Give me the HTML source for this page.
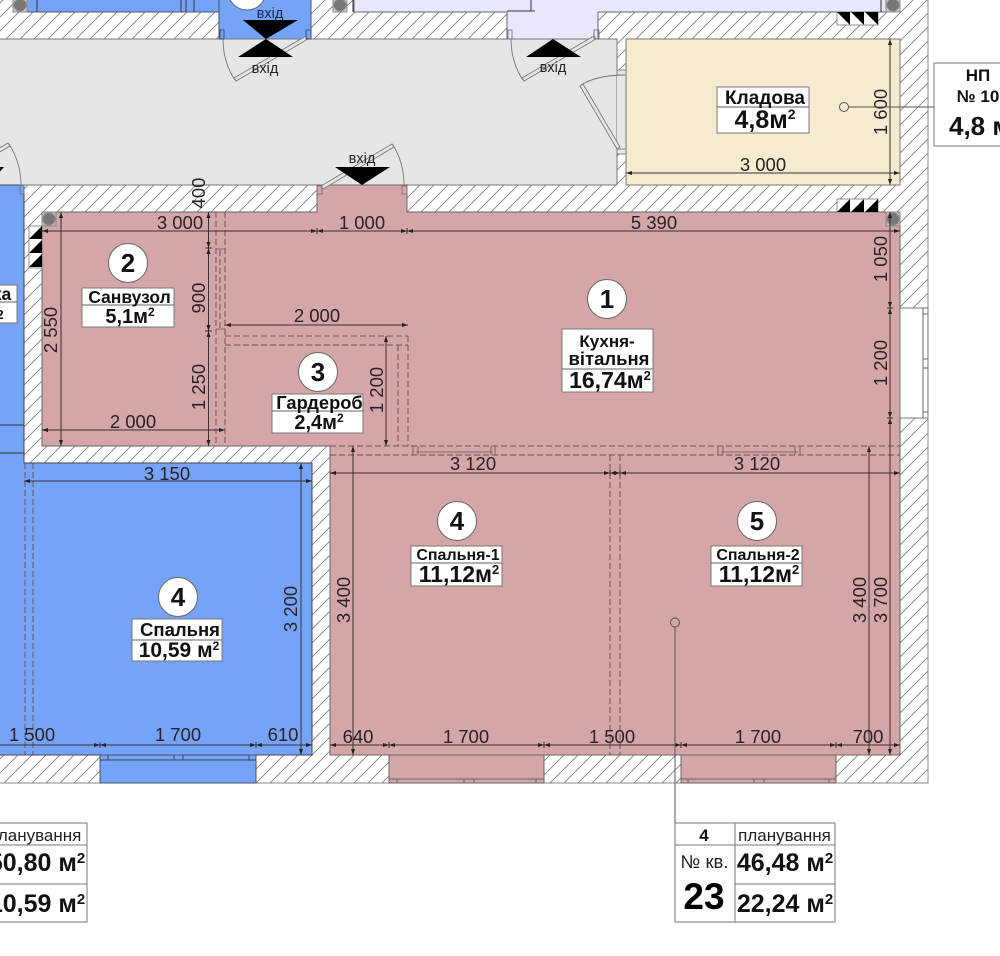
<!DOCTYPE html>
<html><head><meta charset="utf-8"><style>
html,body{margin:0;padding:0;background:#fff;width:1000px;height:956px;overflow:hidden}
svg{display:block;filter:blur(.35px)}
text{font-family:"Liberation Sans",sans-serif;fill:#2a2226;text-anchor:middle}
.d{font-size:18.5px}
.l{font-weight:bold;font-size:17.5px;fill:#111}
.a{font-weight:bold;font-size:20px;fill:#111}
.n{font-weight:bold;font-size:26px;fill:#111}
.v{font-size:14.5px}
.t{font-weight:bold;font-size:25px;fill:#111}
.dim{stroke:#3a3032;stroke-width:1;fill:none}
.dash{stroke:#6b5356;stroke-width:1;stroke-dasharray:6 3;fill:none}
.box{fill:#fff;stroke:#777;stroke-width:1}
.c{fill:#fff;stroke:#666;stroke-width:1}
.w{stroke:#666;stroke-width:1;fill:none}
</style></head><body>
<svg width="1000" height="956" viewBox="0 0 1000 956" xmlns="http://www.w3.org/2000/svg">
<defs>
<pattern id="h" patternUnits="userSpaceOnUse" width="14" height="14"><path d="M-1 4L4 -1M2 15L15 2" stroke="#808080" stroke-width=".9"/></pattern>
<marker id="e" markerUnits="userSpaceOnUse" markerWidth="7" markerHeight="5" refX="6" refY="2.500" orient="auto-start-reverse"><path d="M0 .5L6 2.500L0 4.500z" fill="#222"/></marker>
</defs>
<rect width="1000" height="956" fill="#fff"/>
<rect x="-2" y="-2" width="930" height="785" fill="url(#h)" stroke="#888"/>

<!-- rooms -->
<rect x="27" y="-2" width="192" height="14" fill="#75a3f8" stroke="#557"/>
<rect x="219" y="-2" width="92" height="41" fill="#75a3f8" stroke="#456"/>
<rect x="354" y="-2" width="533" height="14" fill="#e7e7fd" stroke="#667"/>
<rect x="507" y="11" width="91" height="28" fill="#e7e7fd"/>
<path d="M507 12V39M598 12V39" class="w"/>
<rect x="-2" y="39" width="619" height="146" fill="#e6e6e6" stroke="#777"/>
<rect x="617" y="72" width="9" height="78" fill="#e6e6e6"/>
<rect x="626" y="39" width="274" height="146" fill="#f7ebcf" stroke="#777"/>
<path d="M-2 185H24V463H312V755H-2z" fill="#75a3f8" stroke="#445"/>
<path d="M42 212H317V185H407V212H900V755H330V446H42z" fill="#d4a6a7" stroke="#666"/>
<rect x="100" y="755" width="156" height="28" fill="#75a3f8" stroke="#456"/>
<rect x="389" y="755" width="155" height="28" fill="#d4a6a7" stroke="#666"/>
<rect x="681" y="755" width="155" height="28" fill="#d4a6a7" stroke="#666"/>
<rect x="900" y="308" width="28" height="110" fill="#fff" stroke="#777"/>
<path d="M923 308V418M923 314H928M923 359H928M923 368H928M923 412H928" class="w"/>
<path d="M100 760H256M108 755V760M174 755V760M183 755V760M249 755V760" stroke="#345" fill="none"/>
<path d="M389 779H544M397 779V783M464 779V783M474 779V783M536 779V783M681 779H836M688 779V783M754 779V783M764 779V783M829 779V783" class="w"/>

<!-- columns -->
<g fill="#777" stroke="#888">
<rect x="13" y="-2" width="14" height="14" fill="#ccc"/><circle cx="20" cy="5" r="6"/>
<rect x="333" y="-2" width="14" height="14" fill="#ccc"/><circle cx="340" cy="5" r="6"/>
<rect x="886" y="-2" width="14" height="14" fill="#ccc"/><circle cx="893" cy="5" r="6"/>
<rect x="42" y="212" width="14" height="14" fill="#bba"/><circle cx="49" cy="219" r="6"/>
<rect x="886" y="212" width="14" height="14" fill="#bba"/><circle cx="893" cy="219" r="6"/>
</g>

<!-- vents -->
<g stroke="#777" stroke-width=".8">
<rect x="837" y="12" width="41" height="13" fill="#fff"/>
<rect x="837" y="199" width="41" height="13" fill="#fff"/>
<rect x="29" y="226" width="13" height="42" fill="#fff"/>
</g>
<path d="M837 12H850V25zM851 12H864V25zM865 12H878V25z" fill="#000"/>
<path d="M837 212L850 199V212zM851 212L864 199V212zM865 212L878 199V212z" fill="#000"/>
<path d="M42 226V239H29zM42 240V253H29zM42 254V267H29z" fill="#000"/>

<!-- doors -->
<g stroke="#777" fill="none" stroke-width=".9">
<path d="M306 36L234 78L236 81L308 39z" fill="#e6e6e6"/>
<path d="M235 80Q223 62 223 39"/>
<rect x="220" y="30" width="4" height="9" stroke="#446"/><rect x="306" y="30" width="5" height="9" stroke="#446"/>
<path d="M392 144L321 186L323 189L394 147z" fill="#e6e6e6"/>
<path d="M393 145Q404 163 404 185"/>
<rect x="317" y="186" width="5" height="8"/><rect x="402" y="186" width="5" height="8"/>
<path d="M-4 150L8 143L10 146L-2 153z" fill="#e6e6e6"/>
<path d="M9 144Q21 163 21 185"/><rect x="20" y="185" width="4" height="9"/>
<path d="M594 36L522 78L524 81L596 39z" fill="#e6e6e6"/>
<path d="M523 80Q511 62 511 39"/>
<rect x="508" y="30" width="4" height="9"/><rect x="594" y="30" width="5" height="9"/>
<path d="M620 147L583 84L580 86L617 149z" fill="#e6e6e6"/>
<path d="M581 85Q597 75 626 75"/>
<rect x="617" y="70" width="9" height="5" fill="#e6e6e6"/><rect x="617" y="149" width="9" height="5" fill="#e6e6e6"/>
</g>

<!-- entry triangles -->
<path d="M243 20H298L266 39zM238 57H293L266 39zM335 167H390L362 185zM526 57H581L553 39zM-10 167H4L-3 175z" fill="#000"/>
<text x="270" y="18" class="v" style="fill:#14264d">вхід</text>
<text x="265" y="73" class="v">вхід</text>
<text x="362" y="163" class="v">вхід</text>
<text x="553" y="72" class="v">вхід</text>

<!-- dashed partitions -->
<path class="dash" d="M216 212V446M225 212V446M225 336H408M225 345H408M398 345V446M408 336V446M330 446H900M330 455H900M610 455V755M620 455V755M25 463V755M33 463V755M220 250V328"/>
<path d="M216 249H225M216 329H225M413 446V455M418 446V455M491 446V455M495 446V455M718 446V455M723 446V455M795 446V455M800 446V455M416 452H493M721 452H798" stroke="#6b5356" fill="none" stroke-width=".8"/>

<!-- dimension lines -->
<g class="dim">
<path d="M42 231H317" marker-start="url(#e)" marker-end="url(#e)"/><path d="M317 231H407" marker-start="url(#e)" marker-end="url(#e)"/><path d="M407 231H900" marker-start="url(#e)" marker-end="url(#e)"/>
<path d="M208.500 212V248" marker-start="url(#e)" marker-end="url(#e)"/><path d="M208.500 248V331" marker-start="url(#e)" marker-end="url(#e)"/><path d="M208.500 331V446" marker-start="url(#e)" marker-end="url(#e)"/>
<path d="M61 212V446" marker-start="url(#e)" marker-end="url(#e)"/>
<path d="M42 430H225" marker-start="url(#e)" marker-end="url(#e)"/>
<path d="M225 325H408" marker-start="url(#e)" marker-end="url(#e)"/>
<path d="M386 336V446" marker-start="url(#e)" marker-end="url(#e)"/>
<path d="M330 473H610" marker-start="url(#e)" marker-end="url(#e)"/><path d="M610 473H620" marker-start="url(#e)" marker-end="url(#e)"/><path d="M620 473H900" marker-start="url(#e)" marker-end="url(#e)"/>
<path d="M353 446V755" marker-start="url(#e)" marker-end="url(#e)"/>
<path d="M869 446V755" marker-start="url(#e)" marker-end="url(#e)"/>
<path d="M890 212V308" marker-start="url(#e)" marker-end="url(#e)"/><path d="M890 308V418" marker-start="url(#e)" marker-end="url(#e)"/><path d="M890 418V755" marker-start="url(#e)" marker-end="url(#e)"/>
<path d="M-2 745H100" marker-end="url(#e)"/><path d="M100 745H256" marker-start="url(#e)" marker-end="url(#e)"/><path d="M256 745H312" marker-start="url(#e)" marker-end="url(#e)"/>
<path d="M330 745H389" marker-start="url(#e)" marker-end="url(#e)"/><path d="M389 745H544" marker-start="url(#e)" marker-end="url(#e)"/><path d="M544 745H681" marker-start="url(#e)" marker-end="url(#e)"/><path d="M681 745H836" marker-start="url(#e)" marker-end="url(#e)"/><path d="M836 745H900" marker-start="url(#e)" marker-end="url(#e)"/>
<path d="M24 481H312" marker-start="url(#e)" marker-end="url(#e)"/>
<path d="M301 463V755" marker-start="url(#e)" marker-end="url(#e)"/>
<path d="M626 173H900" marker-start="url(#e)" marker-end="url(#e)"/>
<path d="M890 39V185" marker-start="url(#e)" marker-end="url(#e)"/>
<path d="M0 425H24M0 453H24"/>
<path d="M37 0V12M181 0V12M186 0V12M194 0V12M353 0V12M507 11H535M531 0V11M881 0V12"/>
<path d="M317 228V234M407 228V234M610 470V476M620 470V476M100 742V748M256 742V748M389 742V748M544 742V748M681 742V748M836 742V748M205 248H212M205 331H212M887 308H893M887 418H893"/>
</g>

<!-- dimension text -->
<g class="d">
<text x="180" y="229">3 000</text><text x="362" y="229">1 000</text><text x="654" y="229">5 390</text>
<text x="133" y="428">2 000</text><text x="317" y="322">2 000</text>
<text x="473" y="470">3 120</text><text x="757" y="470">3 120</text><text x="167" y="480">3 150</text>
<text x="763" y="171">3 000</text>
<text x="32" y="741">1 500</text><text x="178" y="741">1 700</text><text x="283" y="741">610</text>
<text x="358" y="743">640</text><text x="466" y="743">1 700</text><text x="612" y="743">1 500</text><text x="758" y="743">1 700</text><text x="868" y="743">700</text>
<text transform="translate(205 193) rotate(-90)">400</text>
<text transform="translate(205 298) rotate(-90)">900</text>
<text transform="translate(205 387) rotate(-90)">1 250</text>
<text transform="translate(57 330) rotate(-90)">2 550</text>
<text transform="translate(383 390) rotate(-90)">1 200</text>
<text transform="translate(350 600) rotate(-90)">3 400</text>
<text transform="translate(866 600) rotate(-90)">3 400</text>
<text transform="translate(887 600) rotate(-90)">3 700</text>
<text transform="translate(887 259) rotate(-90)">1 050</text>
<text transform="translate(887 363) rotate(-90)">1 200</text>
<text transform="translate(887 112) rotate(-90)">1 600</text>
<text transform="translate(297 609) rotate(-90)">3 200</text>
</g>

<!-- number circles -->
<circle class="c" cx="247" cy="-9" r="19"/>
<circle class="c" cx="128" cy="263" r="19.500"/><text class="n" x="128" y="272">2</text>
<circle class="c" cx="318" cy="372" r="19.500"/><text class="n" x="318" y="381">3</text>
<circle class="c" cx="607" cy="299" r="19.500"/><text class="n" x="607" y="308">1</text>
<circle class="c" cx="457" cy="521" r="19.500"/><text class="n" x="457" y="530">4</text>
<circle class="c" cx="757" cy="521" r="19.500"/><text class="n" x="757" y="530">5</text>
<circle class="c" cx="178" cy="597" r="19.500"/><text class="n" x="178" y="606">4</text>

<!-- leaders -->
<path d="M848 107H1000M675 627V823" stroke="#555" stroke-width="1" fill="none"/>
<circle cx="844" cy="107" r="4.500" fill="none" stroke="#555"/>
<circle cx="675" cy="622.500" r="4.500" fill="none" stroke="#555"/>

<!-- labels -->
<rect class="box" x="717" y="87" width="92" height="46"/><path d="M717 107H809" class="w"/>
<text class="l" x="765" y="104" style="font-size:19px">Кладова</text>
<text class="a" x="765" y="128" style="font-size:25px">4,8м<tspan dy="-9" font-size="14">2</tspan></text>

<rect class="box" x="82" y="288" width="92" height="39"/><path d="M82 305H174" class="w"/>
<text class="l" x="129.500" y="303">Санвузол</text>
<text class="a" x="130" y="323" style="font-size:20px">5,1м<tspan dy="-7" font-size="12">2</tspan></text>

<rect class="box" x="562" y="329" width="91" height="63"/><path d="M562 369H653" class="w"/>
<text class="l" x="607" y="347" style="font-size:17px">Кухня-</text><text class="l" x="609" y="365" style="font-size:18.500px">вітальня</text>
<text class="a" x="610" y="388" style="font-size:23px">16,74м<tspan dy="-8" font-size="13">2</tspan></text>

<rect class="box" x="272" y="394" width="91" height="39"/><path d="M272 411H363" class="w"/>
<text class="l" x="319.500" y="409" style="font-size:18.300px">Гардероб</text>
<text class="a" x="319" y="429">2,4м<tspan dy="-7" font-size="12">2</tspan></text>

<rect class="box" x="411" y="546" width="91" height="40"/><path d="M411 563H502" class="w"/>
<text class="l" x="458" y="560" style="font-size:16px">Спальня-1</text>
<text class="a" x="459" y="582" style="font-size:23px">11,12м<tspan dy="-8" font-size="13">2</tspan></text>

<rect class="box" x="711" y="546" width="91" height="40"/><path d="M711 563H802" class="w"/>
<text class="l" x="758" y="560" style="font-size:16px">Спальня-2</text>
<text class="a" x="759" y="582" style="font-size:23px">11,12м<tspan dy="-8" font-size="13">2</tspan></text>

<rect class="box" x="132" y="619" width="90" height="42"/><path d="M132 640H222" class="w"/>
<text class="l" x="180" y="636" style="font-size:18.500px">Спальня</text>
<text class="a" x="179" y="657" style="font-size:21px">10,59 м<tspan dy="-7" font-size="12">2</tspan></text>

<rect class="box" x="-5" y="285" width="22" height="38"/><path d="M-5 302H17" class="w"/>
<text class="l" x="2" y="300">ка</text>
<text class="l" x="0" y="319" style="font-size:13px">2</text>

<!-- NP box -->
<rect class="box" x="934" y="63" width="80" height="83"/>
<text class="l" x="978" y="81" style="font-size:17px">НП</text>
<text class="l" x="978" y="102" style="font-size:17px">№ 10</text>
<text class="a" x="949" y="135" style="font-size:26px;text-anchor:start">4,8 м</text>

<!-- tables -->
<g fill="#fff" stroke="#777" stroke-width="1">
<rect x="675" y="823" width="160" height="99"/>
<path d="M735 823V922M675 845H835M735 884H835"/>
<rect x="-5" y="823" width="92" height="99"/>
<path d="M-5 845H87M-5 884H87"/>
</g>
<text x="704" y="841" style="font-size:17px;font-weight:bold;fill:#111">4</text>
<text x="784.500" y="841" style="font-size:17px;fill:#222">планування</text>
<text x="704.500" y="868" style="font-size:18.500px;fill:#222">№ кв.</text>
<text x="704" y="909" style="font-size:37px;font-weight:bold;fill:#000">23</text>
<text class="t" x="785" y="871">46,48 м<tspan dy="-8" font-size="15">2</tspan></text>
<text class="t" x="785" y="912">22,24 м<tspan dy="-8" font-size="15">2</tspan></text>
<text x="35" y="841" style="font-size:17px;fill:#222">планування</text>
<text class="t" x="37" y="871">50,80 м<tspan dy="-8" font-size="15">2</tspan></text>
<text class="t" x="37" y="912">10,59 м<tspan dy="-8" font-size="15">2</tspan></text>
</svg>
</body></html>
